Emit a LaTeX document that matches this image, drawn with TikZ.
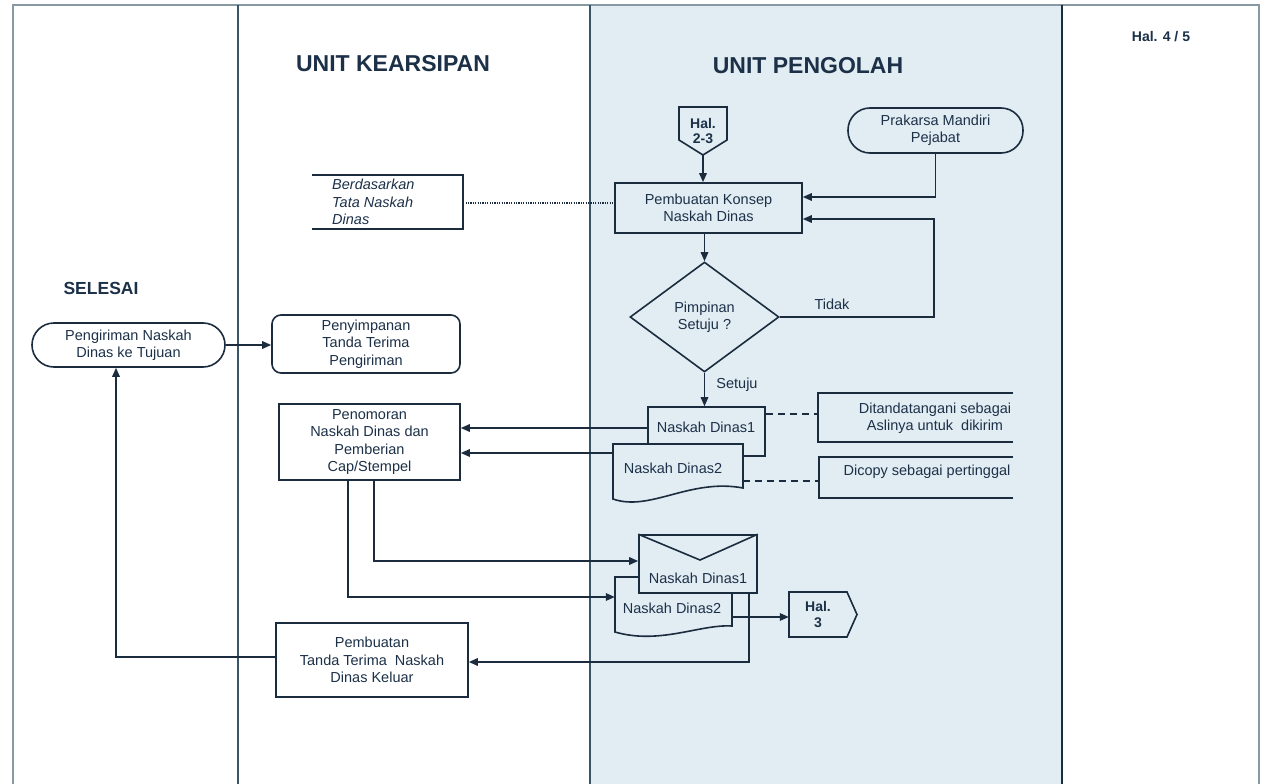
\documentclass[tikz,border=0pt]{standalone}
\usepackage{fontspec}
\setmainfont{Liberation Sans}
\usetikzlibrary{arrows.meta,shapes.geometric}
\definecolor{lc}{HTML}{1B2C3E}
\definecolor{tc}{HTML}{1C3048}
\definecolor{lanebg}{HTML}{E2EDF3}
\definecolor{lanec}{HTML}{3B5568}
\newcommand\fbody{\fontsize{14.5}{17.5}\selectfont}
\newcommand\fbold{\bfseries\fontsize{14}{15.5}\selectfont}
\newcommand\ftitle{\bfseries\fontsize{23}{27}\selectfont}
\begin{document}
\begin{tikzpicture}[x=1pt,y=-1pt,
 ln/.style={draw=lc, line width=1.6pt},
 conn/.style={ln, -{Triangle[length=9pt,width=7.5pt]}},
 pbox/.style={ln, rectangle, inner sep=0pt, align=center, font=\fbody, text=tc},
 anchorbox/.style={rectangle, inner sep=0pt},
 txt/.style={inner sep=0pt, align=center, font=\fbody, text=tc},
 lanel/.style={draw=lanec, line width=1.3pt},
 dashln/.style={ln, dash pattern=on 7pt off 5pt},
 dotln/.style={draw=lc, line width=1.2pt, dash pattern=on 1.2pt off 1.2pt},
]
\useasboundingbox (0,0) rectangle (1267,784);
\fill[white] (0,0) rectangle (1267,784);
\fill[lanebg] (590,5) rectangle (1062,784);
\draw[lanel, draw=lanec!60] (13,784) -- (13,5) -- (1259,5) -- (1259,784);
\draw[lanel] (238,5) -- (238,784);
\draw[lanel] (590,5) -- (590,784);
\draw[lanel, line width=2pt, draw=lc] (1062,5) -- (1062,784);

% helper coordinates
\coordinate (y197) at (0,197);
\coordinate (y203) at (0,203);
\coordinate (y219) at (0,219);
\coordinate (y414) at (0,414);
\coordinate (y428) at (0,428);
\coordinate (y453) at (0,453);
\coordinate (y481) at (0,481);
\coordinate (y561) at (0,561);
\coordinate (y597) at (0,597);
\coordinate (y617) at (0,617);
\coordinate (y657) at (0,657);
\coordinate (y662) at (0,662);
\coordinate (x116) at (116,0);
\coordinate (x348) at (348,0);
\coordinate (x374) at (374,0);
\coordinate (x749) at (749,0);

% titles
\node[font=\ftitle, text=tc] (tka) at (393,64) {UNIT KEARSIPAN};
\node[font=\ftitle, text=tc] (tpe) at (808,66) {UNIT PENGOLAH};
\node[font=\fbold, text=tc] (hal) at (1161,37) {Hal. 4 / 5};
\node[font=\bfseries\fontsize{17.5}{20}\selectfont, text=tc] (selesai) at (101,288) {SELESAI};

% Hal. 2-3
\draw[ln, fill=lanebg] (679,107) -- (727,107) -- (727,140) -- (703,155) -- (679,140) -- cycle;
\node[txt, font=\fbold, minimum width=48pt, minimum height=48pt] (hal23) at (703,131) {Hal.\\2-3};

\node[pbox, minimum width=187pt, minimum height=50pt] (konsep) at (708.5,208) {Pembuatan Konsep\\Naskah Dinas};
\node[pbox, rounded corners=22pt, minimum width=175pt, minimum height=45pt] (prakarsa) at (935.5,130.5) {Prakarsa Mandiri\\Pejabat};

\draw[conn] (hal23.south) -- (hal23.south |- konsep.north);
\draw[conn] (prakarsa.south) |- (konsep.east |- y197);

\node[pbox, diamond, minimum width=149pt, minimum height=110pt] (dec) at (704.5,317) {Pimpinan\\Setuju ?};
\draw[conn] (konsep.south -| dec.north) -- (dec.north);
\draw[conn] (dec.east) -- ++(154,0) |- (konsep.east |- y219);
\node[txt] (tidak) at (832,304) {Tidak};
\node[txt] (setuju) at (737,385) {Setuju};

% documents (upper)
\node[pbox, fill=lanebg, minimum width=117pt, minimum height=49pt] (doc1) at (706.5,431.5) {};
\node[txt] (doc1t) at (706,427) {Naskah Dinas1};
\draw[conn] (dec.south) -- (dec.south |- doc1.north);

\draw[ln, fill=lanebg] (613,444) -- (743,444) -- (743,488) .. controls (690,478) and (650,512) .. (613,499) -- cycle;
\node[anchorbox, minimum width=130pt, minimum height=44pt] (doc2) at (678,466) {};
\node[txt] (doc2t) at (673,468) {Naskah Dinas2};

\node[pbox, minimum width=181pt, minimum height=76pt] (pen) at (369.5,442) {Penomoran\\Naskah Dinas dan\\Pemberian\\Cap/Stempel};
\draw[conn] (doc1.west |- y428) -- (pen.east |- y428);
\draw[conn] (doc2.west |- y453) -- (pen.east |- y453);

% annotations
\node[anchorbox, minimum width=195pt, minimum height=49pt] (ann1) at (915.5,417.5) {};
\draw[ln] (ann1.north east) -- (ann1.north west) -- (ann1.south west) -- (ann1.south east);
\node[txt] (ann1t) at (935,418) {Ditandatangani sebagai\\Aslinya untuk\ \ dikirim};
\draw[dashln] (doc1.east |- y414) -- (ann1.west |- y414);

\node[anchorbox, minimum width=194pt, minimum height=41pt] (ann2) at (916,477.5) {};
\draw[ln] (ann2.north east) -- (ann2.north west) -- (ann2.south west) -- (ann2.south east);
\node[txt] (ann2t) at (927,472) {Dicopy sebagai pertinggal};
\draw[dashln] (doc2.east |- y481) -- (ann2.west |- y481);

\node[anchorbox, minimum width=151pt, minimum height=54pt] (ann0) at (387.5,202) {};
\draw[ln] (ann0.north west) -- (ann0.north east) -- (ann0.south east) -- (ann0.south west);
\node[txt, anchor=west, align=left, font=\fbody\itshape] (ann0t) at (332,202) {Berdasarkan\\Tata Naskah\\Dinas};
\draw[dotln] (ann0.east |- y203) -- (konsep.west |- y203);

% left column
\node[pbox, rounded corners=22pt, minimum width=193pt, minimum height=44pt] (kirim) at (128.5,345) {Pengiriman Naskah\\Dinas ke Tujuan};
\node[pbox, rounded corners=9pt, minimum width=188pt, minimum height=58pt] (simpan) at (366,344) {Penyimpanan\\Tanda Terima\\Pengiriman};
\draw[conn] (kirim.east) -- (kirim.east -| simpan.west);

\node[pbox, minimum width=192pt, minimum height=74pt] (ttk) at (372,660) {Pembuatan\\Tanda Terima\ \ Naskah\\Dinas Keluar};
\draw[conn] (ttk.west |- y657) -| (x116 |- kirim.south);

% lower documents
\draw[ln, fill=lanebg] (615,577) -- (732,577) -- (732,626) .. controls (700,624) and (660,645) .. (615,632) -- cycle;
\node[anchorbox, minimum width=117pt, minimum height=49pt] (doc2b) at (673.5,601.5) {};
\node[txt] (doc2bt) at (672,608) {Naskah Dinas2};

\node[pbox, fill=lanebg, minimum width=118pt, minimum height=58pt] (env) at (698,564) {};
\draw[ln] (env.north west) -- (700,560) -- (env.north east);
\node[txt] (envt) at (698,578) {Naskah Dinas1};

\draw[conn] (pen.south -| x374) |- (env.west |- y561);
\draw[conn] (pen.south -| x348) |- (doc2b.west |- y597);
\draw[conn] (env.south -| x749) |- (ttk.east |- y662);

% Hal. 3
\draw[ln, fill=lanebg] (789,592) -- (847,592) -- (857,614.5) -- (847,637) -- (789,637) -- cycle;
\node[txt, font=\fbold, minimum width=58pt, minimum height=45pt] (hal3) at (818,614.5) {Hal.\\3};
\draw[conn] (doc2b.east |- y617) -- (hal3.west |- y617);
\end{tikzpicture}
\end{document}
